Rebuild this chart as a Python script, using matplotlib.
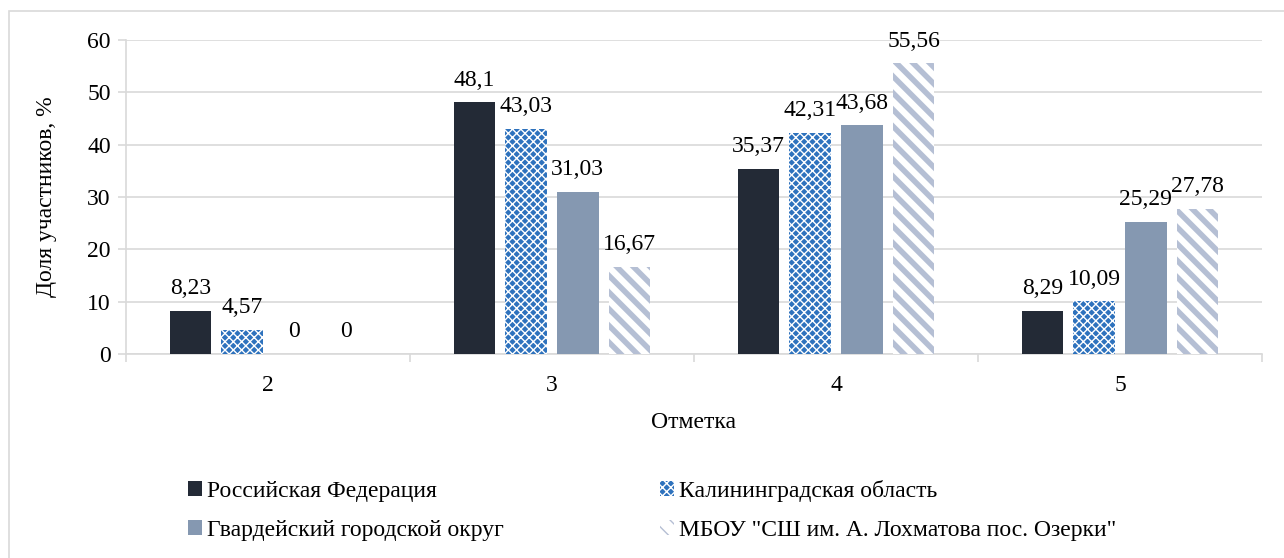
import numpy as np
import matplotlib
matplotlib.use('Agg')
import matplotlib.pyplot as plt
from matplotlib.patches import Rectangle

# data
marks = ['2', '3', '4', '5']
rf = [8.23, 48.1, 35.37, 8.29]
kaliningrad = [4.57, 43.03, 42.31, 10.09]
gvardeysk = [0, 31.03, 43.68, 25.29]
school = [0, 16.67, 55.56, 27.78]
series_names = ['Российская Федерация', 'Калининградская область',
                'Гвардейский городской округ',
                'МБОУ "СШ им. А. Лохматова пос. Озерки"']

plt.rcParams['font.family'] = ['Liberation Serif', 'DejaVu Serif']
plt.rcParams['font.size'] = 17

fig = plt.figure(figsize=(12.84, 5.58), dpi=100)
ax = fig.add_axes([126 / 1284, 204 / 558, (1262 - 126) / 1284, 314 / 558])

# outer chart border
fig.patches.append(Rectangle((9 / 1284, -0.05), 1.1, (558 - 11) / 558 + 0.05,
                             transform=fig.transFigure, fill=False,
                             edgecolor='#d9d9d9', linewidth=1.2))

x = np.arange(len(marks))
width = 0.147
step = 0.182
styles = [
    dict(color='#232a36', hatch=None, hatch_lw=1.0, edge='#232a36'),
    dict(color='#2e72bd', hatch='xxxx', hatch_lw=1.0, edge='white'),
    dict(color='#8598b1', hatch=None, hatch_lw=1.0, edge='#8598b1'),
    dict(color='white', hatch='\\\\', hatch_lw=4.0, edge='#b5bfd4'),
]
all_series = [rf, kaliningrad, gvardeysk, school]

handles = []
for i, (vals, st) in enumerate(zip(all_series, styles)):
    with plt.rc_context({'hatch.linewidth': st['hatch_lw']}):
        bars = ax.bar(x + (i - 1.5) * step, vals, width,
                      color=st['color'], hatch=st['hatch'],
                      edgecolor=st['edge'], linewidth=0,
                      label=series_names[i], zorder=3)
    handles.append(bars)
    for xi, v in zip(x + (i - 1.5) * step, vals):
        ax.annotate(f'{v:g}'.replace('.', ','), (xi, v),
                    xytext=(0, 12), textcoords='offset points',
                    ha='center', va='baseline', fontsize=17)

ax.set_xlim(-0.5, 3.5)
ax.set_ylim(0, 60)
ax.set_yticks(range(0, 61, 10))
ax.set_xticks(x)
ax.set_xticklabels(marks)
ax.set_xticks(np.arange(-0.5, 3.6, 1), minor=True)
ax.tick_params(axis='x', which='major', length=0, pad=15)
ax.tick_params(axis='x', which='minor', length=6, color='#d9d9d9', width=1.2)
ax.tick_params(axis='y', length=6, color='#d9d9d9', width=1.2, pad=5)

ax.grid(axis='y', color='#d9d9d9', linewidth=1.2, zorder=0)
for side in ['top', 'right']:
    ax.spines[side].set_visible(False)
ax.spines['left'].set_color('#d9d9d9')
ax.spines['bottom'].set_color('#d9d9d9')
ax.spines['left'].set_linewidth(1.2)
ax.spines['bottom'].set_linewidth(1.2)

ax.set_xlabel('Отметка', fontsize=17, labelpad=12)
ax.set_ylabel('Доля участников, %', fontsize=17, labelpad=22)

# legend fills column-wise, so order handles to get row-wise layout
order = [0, 2, 1, 3]
with plt.rc_context({'hatch.linewidth': 1.0}):
    fig.legend(handles=[handles[k] for k in order], loc='upper left',
               bbox_to_anchor=(167 / 1284, 1 - 459 / 558), ncol=2,
               frameon=False, fontsize=17, handlelength=0.6, handleheight=0.6,
               handletextpad=0.2, columnspacing=6.6, labelspacing=0.75)

fig.savefig('out.png', dpi=100)
